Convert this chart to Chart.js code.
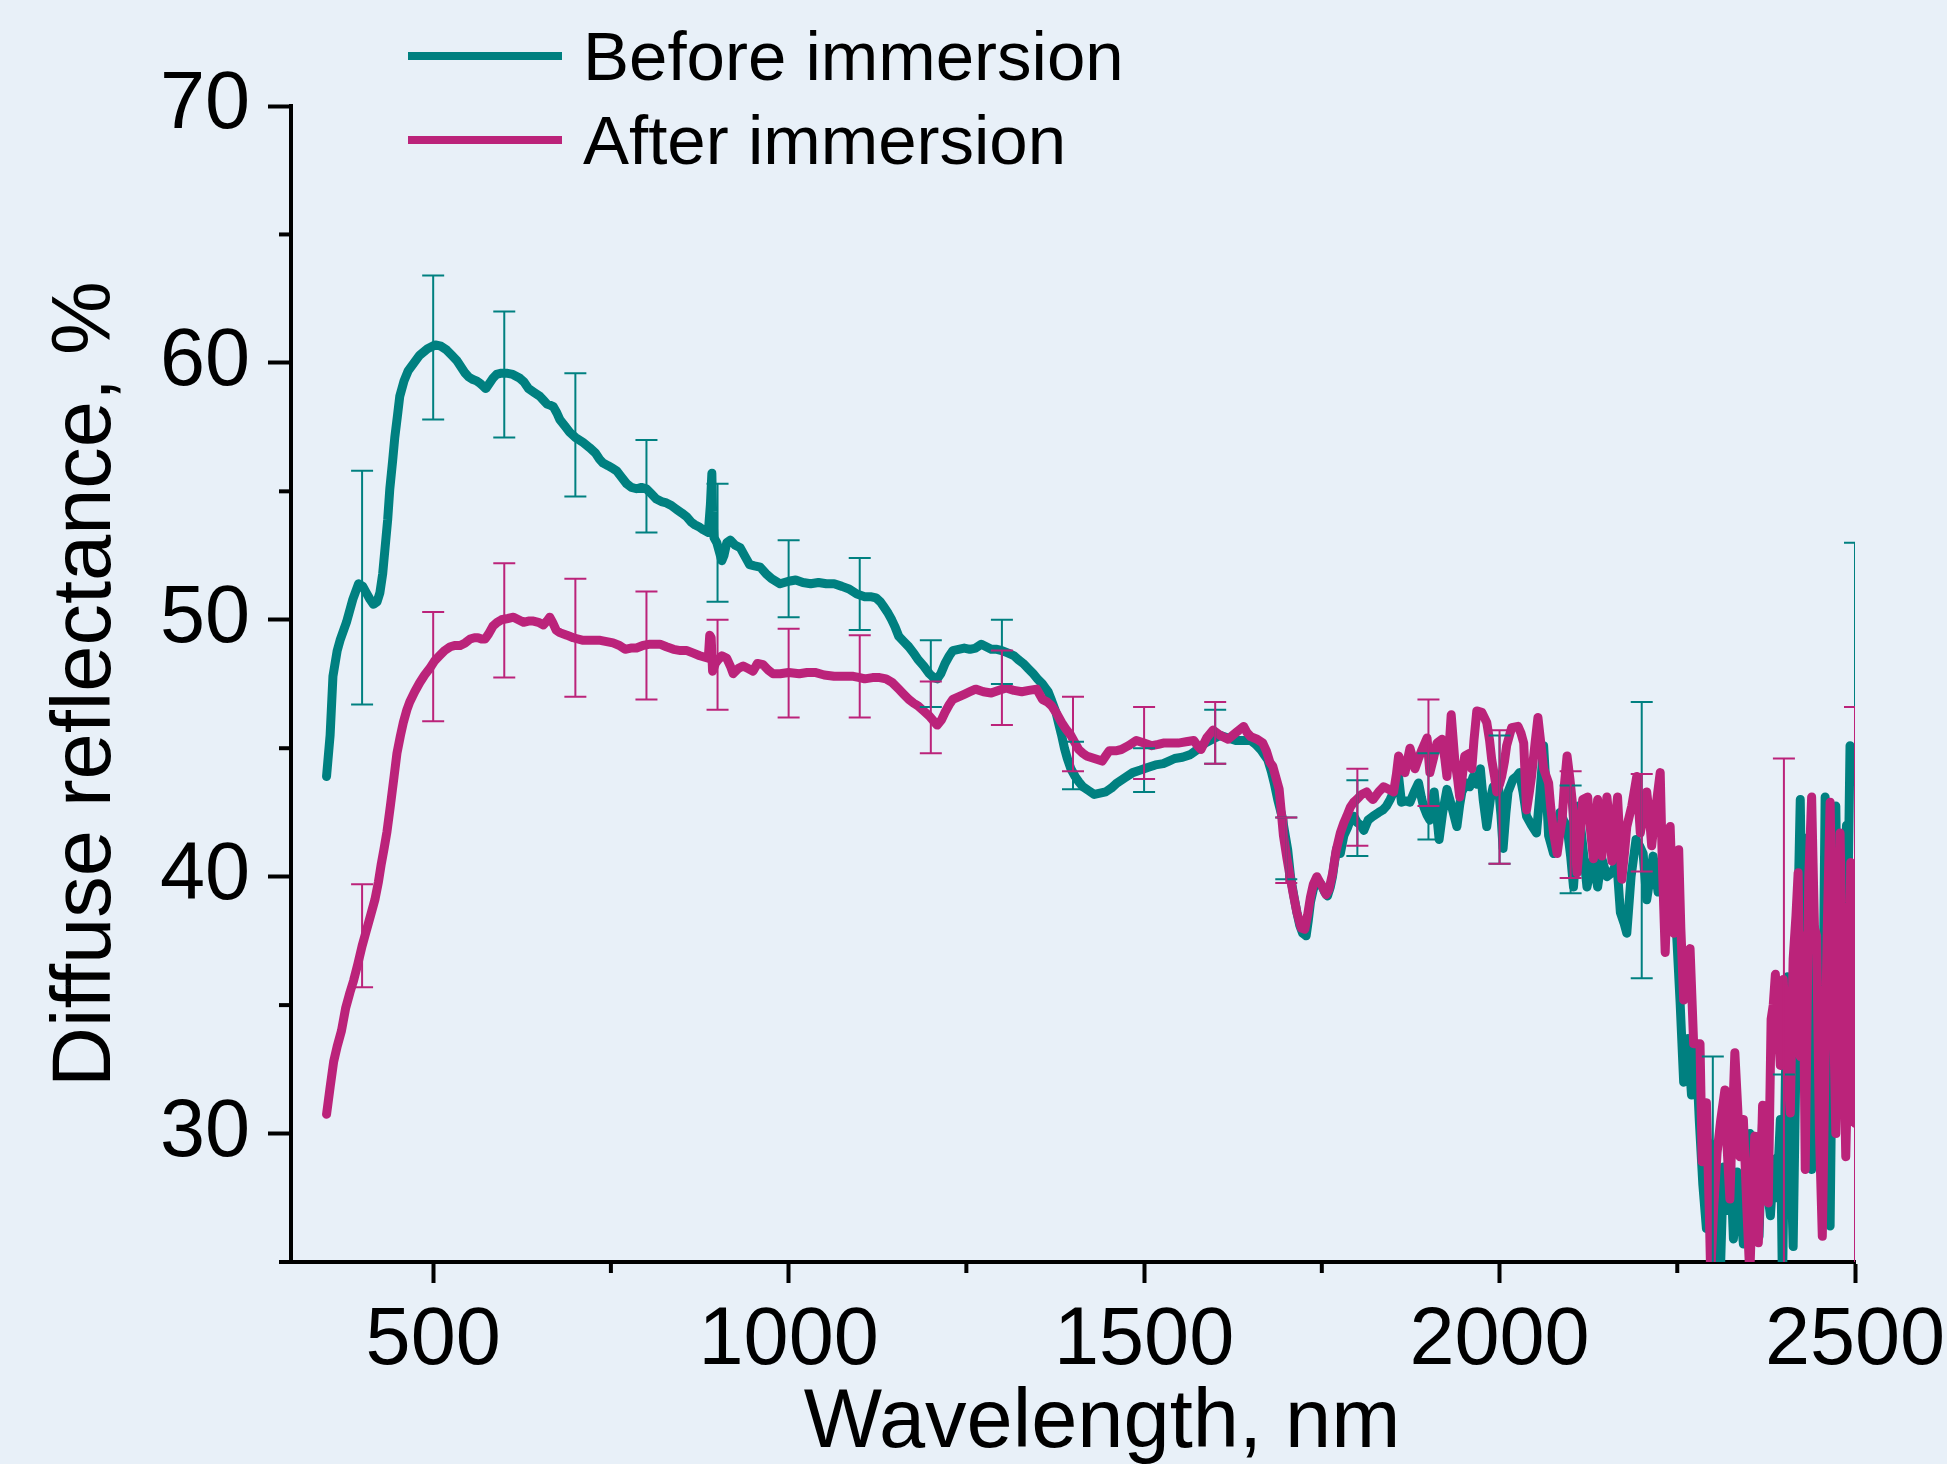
<!DOCTYPE html>
<html>
<head>
<meta charset="utf-8">
<script src="https://cdn.jsdelivr.net/npm/chart.js@4.4.1/dist/chart.umd.min.js"></script>
<style>
  html, body { margin: 0; padding: 0; background: #e8f0f8; }
  #c { display: block; }
</style>
</head>
<body>
<canvas id="c" width="1947" height="1464" style="width:1947px;height:1464px"></canvas>
<script>
// ---------------- DATA ----------------
const seriesNames = ['Before immersion', 'After immersion'];
const xTitle = 'Wavelength, nm';
const yTitle = 'Diffuse reflectance, %';

const xMajorTicks = [500, 1000, 1500, 2000, 2500];
const xMinorTicks = [750, 1250, 1750, 2250];
const yMajorTicks = [30, 40, 50, 60, 70];
const yMinorTicks = [25, 35, 45, 55, 65];

// [wavelength nm, reflectance %]
const beforeSpectrum = [
[350,43.9],[355,45.5],[359,47.8],[365,48.8],[369,49.2],[378,49.9],[387,50.8],[395,51.4],[401,51.3],[406,51.05],
[411,50.8],[416,50.6],[421,50.7],[425,51.05],[429,51.8],[432,52.7],[436,53.9],[439,55.1],[443,56.2],[446,57.1],
[450,58.0],[453,58.7],[459,59.3],[465,59.7],[473,60.0],[481,60.3],[492,60.55],[503,60.7],[511,60.65],[519,60.5],
[526,60.3],[533,60.1],[539,59.85],[545,59.6],[550,59.45],[556,59.35],[561,59.3],[566,59.2],[570,59.1],[574,59.0],
[579,59.2],[584,59.4],[589,59.55],[596,59.6],[603,59.6],[612,59.55],[622,59.4],[628,59.25],[634,59.0],[642,58.85],
[650,58.7],[655,58.55],[660,58.4],[665,58.35],[669,58.3],[674,58.05],[678,57.8],[685,57.55],[692,57.3],[700,57.1],
[711,56.9],[720,56.7],[728,56.5],[734,56.25],[739,56.1],[746,56.0],[752,55.9],[758,55.8],[765,55.55],[772,55.3],
[779,55.15],[786,55.1],[793,55.15],[800,55.1],[807,54.9],[814,54.7],[821,54.6],[828,54.55],[835,54.45],[842,54.3],
[850,54.15],[857,54.0],[863,53.8],[868,53.7],[875,53.6],[880,53.5],[887,53.4],[890,54.5],[892,55.7],[893,54.2],
[895,53.2],[899,53.0],[903,52.6],[906,52.3],[909,52.5],[913,53.0],[918,53.1],[925,52.9],[932,52.8],[938,52.5],
[945,52.15],[952,52.1],[960,52.05],[968,51.8],[976,51.6],[988,51.4],[1000,51.5],[1010,51.55],[1020,51.45],[1031,51.4],
[1042,51.45],[1053,51.4],[1064,51.4],[1075,51.3],[1085,51.2],[1096,51.0],[1107,50.9],[1115,50.9],[1123,50.85],[1129,50.7],
[1134,50.5],[1140,50.25],[1145,50.0],[1150,49.7],[1155,49.35],[1162,49.15],[1169,48.95],[1176,48.7],[1182,48.45],[1190,48.2],
[1198,47.9],[1204,47.75],[1209,47.7],[1214,47.9],[1220,48.3],[1226,48.6],[1231,48.8],[1239,48.85],[1247,48.9],[1255,48.85],
[1263,48.9],[1271,49.05],[1278,48.95],[1285,48.85],[1293,48.85],[1300,48.8],[1309,48.7],[1317,48.6],[1323,48.45],[1330,48.3],
[1337,48.1],[1344,47.9],[1350,47.7],[1357,47.5],[1361,47.35],[1365,47.2],[1370,46.85],[1376,46.4],[1380,45.95],[1384,45.5],
[1388,45.0],[1392,44.6],[1397,44.2],[1403,43.9],[1408,43.7],[1414,43.5],[1422,43.35],[1430,43.2],[1438,43.25],[1446,43.3],
[1454,43.45],[1462,43.65],[1473,43.85],[1484,44.05],[1495,44.15],[1505,44.25],[1516,44.35],[1527,44.4],[1535,44.5],[1543,44.6],
[1554,44.65],[1565,44.75],[1575,44.95],[1586,45.2],[1596,45.35],[1607,45.5],[1618,45.4],[1629,45.3],[1640,45.3],[1650,45.3],
[1657,45.15],[1664,44.95],[1669,44.75],[1674,44.55],[1679,44.1],[1683,43.65],[1688,43.0],[1694,42.35],[1698,41.7],[1702,41.05],
[1706,40.0],[1711,39.2],[1715,38.6],[1719,38.1],[1723,37.8],[1728,37.7],[1731,38.3],[1734,39.0],[1738,39.5],[1743,39.9],
[1749,39.7],[1754,39.4],[1758,39.25],[1762,39.6],[1765,40.0],[1768,40.6],[1771,41.1],[1776,40.9],[1781,41.6],[1786,41.9],
[1790,42.2],[1795,42.35],[1800,42.1],[1805,42.0],[1809,41.8],[1815,42.2],[1822,42.35],[1830,42.5],[1836,42.6],[1841,42.75],
[1846,43.0],[1851,43.3],[1855,43.6],[1858,43.9],[1862,42.9],[1868,42.95],[1874,42.9],[1880,43.3],[1886,43.65],[1890,43.1],
[1893,42.75],[1898,42.4],[1902,42.2],[1905,42.8],[1908,43.3],[1912,42.3],[1915,41.45],[1920,42.5],[1926,43.4],[1933,42.7],
[1940,41.95],[1944,42.8],[1947,43.3],[1954,43.65],[1958,43.5],[1963,43.9],[1968,43.6],[1973,44.2],[1977,43.0],[1982,41.95],
[1987,43.0],[1991,43.5],[1998,43.65],[2002,42.4],[2005,41.1],[2009,42.5],[2012,43.3],[2019,43.8],[2024,43.9],[2028,44.05],
[2033,43.3],[2038,42.35],[2045,42.0],[2052,41.7],[2057,43.3],[2062,45.1],[2066,43.2],[2069,41.6],[2073,41.2],[2076,40.9],
[2081,41.8],[2085,42.5],[2090,42.2],[2095,41.95],[2100,40.8],[2104,39.6],[2108,41.2],[2111,42.75],[2117,41.2],[2123,39.6],
[2128,40.3],[2132,40.7],[2135,40.1],[2138,39.6],[2141,40.2],[2144,40.7],[2148,40.3],[2151,40.0],[2158,40.15],[2165,40.55],
[2170,38.6],[2175,38.2],[2179,37.8],[2185,40.0],[2192,41.45],[2197,41.2],[2202,40.9],[2207,39.1],[2212,40.0],[2216,40.8],
[2220,40.0],[2223,39.4],[2229,39.7],[2235,40.0],[2242,39.0],[2249,37.8],[2254,35.1],[2259,32.0],[2265,33.7],[2270,31.5],
[2276,33.5],[2281,30.5],[2286,28.0],[2291,26.3],[2297,29.6],[2302,27.0],[2306,24.5],[2310,24.0],[2315,28.7],[2320,27.0],
[2324,29.5],[2329,25.9],[2334,28.5],[2338,27.3],[2343,25.7],[2348,28.0],[2352,30.0],[2356,27.5],[2360,29.5],[2365,26.0],
[2370,30.5],[2376,28.0],[2381,26.8],[2386,29.0],[2390,27.5],[2395,30.55],[2398,24.0],[2402,32.0],[2405,36.1],[2409,30.0],
[2413,25.6],[2417,33.0],[2420,39.0],[2423,43.0],[2427,35.0],[2431,41.5],[2435,30.0],[2439,28.6],[2443,38.0],[2446,34.0],
[2450,30.0],[2455,35.0],[2458,43.1],[2462,33.0],[2465,26.4],[2468,33.8],[2473,42.75],[2476,37.0],[2480,31.0],[2484,38.0],
[2488,42.0],[2490,39.0],[2493,45.1],[2496,44.5],[2500,45.0]
];

const afterSpectrum = [
[350,30.75],[355,31.8],[360,32.8],[365,33.4],[371,34.0],[377,34.9],[383,35.5],[388,35.95],[394,36.6],[400,37.3],
[406,37.9],[412,38.5],[418,39.1],[423,39.8],[427,40.5],[431,41.1],[435,41.75],[440,42.8],[445,43.9],[449,44.8],
[454,45.5],[458,46.0],[463,46.5],[467,46.8],[474,47.2],[481,47.55],[488,47.85],[495,48.1],[502,48.4],[509,48.6],
[516,48.8],[524,48.95],[531,49.0],[538,49.0],[545,49.1],[552,49.25],[558,49.3],[563,49.3],[568,49.25],[573,49.25],
[578,49.45],[584,49.75],[590,49.9],[596,50.0],[605,50.05],[613,50.1],[620,50.0],[627,49.9],[634,49.95],[641,49.95],
[648,49.9],[655,49.8],[660,49.95],[664,50.1],[668,49.9],[673,49.6],[678,49.5],[688,49.4],[697,49.3],[711,49.2],
[723,49.2],[735,49.2],[744,49.15],[753,49.1],[762,49.0],[770,48.85],[778,48.9],[786,48.9],[795,49.0],[805,49.05],
[812,49.05],[819,49.05],[828,48.95],[838,48.85],[848,48.8],[857,48.8],[866,48.7],[875,48.6],[881,48.55],[887,48.5],
[889,49.4],[891,49.3],[893,48.0],[897,48.3],[901,48.45],[906,48.6],[913,48.5],[918,48.2],[922,47.9],[929,48.1],
[936,48.2],[943,48.1],[950,48.0],[956,48.3],[964,48.25],[971,48.05],[978,47.9],[988,47.9],[1000,47.95],[1015,47.9],
[1026,47.95],[1037,47.95],[1050,47.85],[1064,47.8],[1077,47.8],[1091,47.8],[1100,47.75],[1107,47.7],[1118,47.75],[1128,47.75],
[1137,47.7],[1146,47.55],[1155,47.3],[1162,47.1],[1169,46.9],[1176,46.75],[1182,46.65],[1190,46.45],[1198,46.25],[1204,46.05],
[1209,45.9],[1215,46.1],[1220,46.4],[1226,46.7],[1231,46.9],[1239,47.0],[1247,47.1],[1255,47.2],[1263,47.3],[1274,47.2],
[1285,47.15],[1295,47.25],[1306,47.35],[1317,47.25],[1328,47.2],[1338,47.25],[1349,47.3],[1353,47.1],[1357,46.9],[1364,46.8],
[1370,46.65],[1377,46.35],[1384,46.0],[1390,45.75],[1397,45.5],[1403,45.2],[1408,44.95],[1414,44.8],[1419,44.7],[1430,44.6],
[1441,44.5],[1446,44.7],[1451,44.9],[1460,44.9],[1468,44.95],[1478,45.1],[1489,45.3],[1500,45.2],[1511,45.1],[1520,45.15],
[1527,45.2],[1538,45.2],[1548,45.2],[1559,45.25],[1570,45.3],[1575,45.1],[1580,44.95],[1588,45.4],[1597,45.7],[1607,45.5],
[1618,45.35],[1629,45.6],[1640,45.85],[1645,45.6],[1650,45.45],[1659,45.35],[1667,45.2],[1672,44.9],[1677,44.45],[1681,44.3],
[1686,43.8],[1690,43.4],[1693,42.5],[1696,41.6],[1701,40.7],[1706,39.9],[1710,39.3],[1715,38.6],[1721,38.0],[1726,37.95],
[1730,38.5],[1734,39.2],[1738,39.7],[1743,40.0],[1747,39.8],[1751,39.6],[1756,39.3],[1760,39.5],[1765,40.1],[1770,41.0],
[1776,41.7],[1781,42.1],[1785,42.35],[1790,42.7],[1795,42.9],[1799,43.0],[1806,43.2],[1813,43.3],[1818,43.1],[1822,43.0],
[1830,43.3],[1837,43.5],[1844,43.4],[1851,43.3],[1855,44.0],[1858,44.7],[1862,44.4],[1867,44.05],[1871,44.6],[1874,45.0],
[1878,44.6],[1881,44.2],[1886,44.6],[1891,44.95],[1898,45.4],[1902,44.05],[1907,44.6],[1912,45.2],[1919,45.35],[1923,44.6],
[1926,43.9],[1929,45.0],[1932,46.3],[1937,44.55],[1941,43.8],[1944,43.1],[1948,44.0],[1951,44.7],[1958,44.8],[1961,44.2],
[1964,45.3],[1968,46.45],[1975,46.4],[1982,46.0],[1986,45.3],[1989,44.55],[1993,43.9],[1996,43.3],[2000,43.6],[2003,43.9],
[2007,44.5],[2010,45.1],[2017,45.8],[2026,45.85],[2030,45.6],[2034,45.2],[2038,42.6],[2042,43.3],[2045,43.9],[2050,45.2],
[2054,46.2],[2058,45.2],[2062,44.2],[2069,43.65],[2072,42.7],[2076,41.7],[2081,40.9],[2084,41.5],[2088,42.2],[2091,43.5],
[2095,44.7],[2099,43.8],[2102,43.0],[2106,41.5],[2109,40.15],[2113,41.5],[2117,43.0],[2124,43.1],[2128,41.8],[2132,40.7],
[2135,41.8],[2138,43.0],[2141,41.9],[2144,40.8],[2148,42.0],[2151,43.1],[2155,42.0],[2158,40.6],[2162,42.0],[2166,43.1],
[2169,41.5],[2172,39.9],[2176,41.0],[2179,41.95],[2186,42.75],[2193,43.9],[2198,41.7],[2203,42.5],[2207,43.3],[2211,42.3],
[2214,41.2],[2219,42.5],[2226,44.05],[2229,40.5],[2233,37.05],[2236,39.5],[2240,41.95],[2245,37.8],[2249,39.5],[2252,41.05],
[2255,38.0],[2259,35.2],[2264,36.3],[2268,37.2],[2271,35.0],[2273,33.5],[2278,33.5],[2282,33.5],[2285,28.9],[2288,30.0],
[2291,31.2],[2295,27.0],[2297,24.5],[2301,27.0],[2306,29.25],[2311,30.5],[2317,31.7],[2320,29.5],[2324,27.45],[2327,30.0],
[2331,33.15],[2335,31.0],[2338,29.1],[2343,30.55],[2348,27.0],[2352,24.5],[2355,27.0],[2359,29.9],[2364,25.75],[2367,28.0],
[2370,31.1],[2374,29.0],[2378,27.3],[2382,34.45],[2385,35.0],[2388,36.2],[2392,34.0],[2395,32.65],[2399,36.0],[2404,33.0],
[2409,30.8],[2411,34.0],[2413,36.8],[2417,38.5],[2420,40.15],[2423,33.0],[2427,37.7],[2430,28.6],[2435,40.0],[2439,43.1],
[2443,38.0],[2446,37.7],[2450,30.0],[2454,26.0],[2458,33.0],[2461,38.0],[2465,42.9],[2469,36.0],[2473,30.0],[2476,35.0],
[2479,41.7],[2483,35.0],[2487,29.1],[2491,34.0],[2494,40.55],[2497,35.0],[2500,30.4]
];

// error bars
const errNm      = [400, 500, 600, 700, 800, 900, 1000, 1100, 1200, 1300, 1400, 1500, 1600, 1700, 1800, 1900, 2000, 2100, 2200, 2300, 2400, 2500];
const beforeHigh = [55.8, 63.4, 62.0, 59.6, 57.0, 55.3, 53.1, 52.4, 49.2, 50.0, 45.25, 45.0, 46.5, 42.3, 43.75, 44.8, 45.5, 43.55, 46.8, 33.0, 32.3, 53.0];
const beforeLow  = [46.7, 57.8, 57.1, 54.8, 53.4, 50.7, 50.1, 49.6, 46.6, 47.5, 43.4, 43.3, 44.4, 39.9, 40.8, 41.45, 40.5, 39.35, 36.05, 20.0, 20.0, 17.0];
const afterHigh  = [39.7, 50.3, 52.2, 51.6, 51.1, 50.0, 49.65, 49.4, 47.6, 48.8, 47.0, 46.6, 46.8, 42.3, 44.2, 46.9, 45.7, 44.1, 44.0, null, 44.6, 46.6];
const afterLow   = [35.7, 46.05, 47.75, 47.0, 46.9, 46.5, 46.2, 46.2, 44.8, 45.9, 44.1, 43.8, 44.4, 39.75, 41.2, 42.75, 40.5, 39.95, 40.2, null, 15.0, 19.6];

// ---------------- STYLE ----------------
const TEAL = '#008080';
const MAGENTA = '#bb237a';
const BG = '#e8f0f8';
const FONT = "'Liberation Sans', Arial, Helvetica, sans-serif";

const toXY = arr => arr.map(p => ({ x: p[0], y: p[1] }));

const bgPlugin = {
  id: 'bg',
  beforeDraw(chart) {
    const ctx = chart.ctx;
    ctx.save();
    ctx.fillStyle = BG;
    ctx.fillRect(0, 0, chart.width, chart.height);
    ctx.restore();
  }
};

const errorBarPlugin = {
  id: 'errorBars',
  afterDatasetsDraw(chart) {
    const ctx = chart.ctx, xs = chart.scales.x, ys = chart.scales.y, a = chart.chartArea;
    ctx.save();
    ctx.beginPath();
    ctx.rect(a.left, a.top, a.right - a.left, a.bottom - a.top);
    ctx.clip();
    const sets = [
      { hi: beforeHigh, lo: beforeLow, color: TEAL },
      { hi: afterHigh, lo: afterLow, color: MAGENTA }
    ];
    ctx.lineWidth = 2;
    ctx.lineCap = 'butt';
    for (const s of sets) {
      ctx.strokeStyle = s.color;
      for (let i = 0; i < errNm.length; i++) {
        if (s.hi[i] == null || s.lo[i] == null) continue;
        const px = xs.getPixelForValue(errNm[i]);
        const ph = ys.getPixelForValue(s.hi[i]);
        const pl = ys.getPixelForValue(s.lo[i]);
        ctx.beginPath();
        ctx.moveTo(px, ph); ctx.lineTo(px, pl);
        ctx.moveTo(px - 11, ph); ctx.lineTo(px + 11, ph);
        ctx.moveTo(px - 11, pl); ctx.lineTo(px + 11, pl);
        ctx.stroke();
      }
    }
    ctx.restore();
  }
};

const decorPlugin = {
  id: 'decor',
  afterDraw(chart) {
    const ctx = chart.ctx, xs = chart.scales.x, ys = chart.scales.y, a = chart.chartArea;
    ctx.save();
    // minor ticks
    ctx.strokeStyle = '#000';
    ctx.lineWidth = 4;
    ctx.lineCap = 'butt';
    for (const v of xMinorTicks) {
      const px = xs.getPixelForValue(v);
      ctx.beginPath(); ctx.moveTo(px, a.bottom); ctx.lineTo(px, a.bottom + 11); ctx.stroke();
    }
    for (const v of yMinorTicks) {
      const py = ys.getPixelForValue(v);
      ctx.beginPath(); ctx.moveTo(a.left, py); ctx.lineTo(a.left - 12, py); ctx.stroke();
    }
    // axis titles
    ctx.fillStyle = '#000';
    ctx.font = '83px ' + FONT;
    ctx.textAlign = 'center';
    ctx.textBaseline = 'alphabetic';
    ctx.fillText(xTitle, 1102, 1447);
    ctx.save();
    ctx.translate(110, (a.top + a.bottom) / 2);
    ctx.rotate(-Math.PI / 2);
    ctx.fillText(yTitle, 0, 0);
    ctx.restore();
    // legend
    const leg = [
      { name: seriesNames[0], color: TEAL, y: 56, base: 80 },
      { name: seriesNames[1], color: MAGENTA, y: 140, base: 164 }
    ];
    ctx.font = '69px ' + FONT;
    ctx.textAlign = 'left';
    for (const l of leg) {
      ctx.strokeStyle = l.color;
      ctx.lineWidth = 8;
      ctx.beginPath(); ctx.moveTo(408, l.y); ctx.lineTo(562, l.y); ctx.stroke();
      ctx.fillStyle = '#000';
      ctx.fillText(l.name, 583, l.base);
    }
    ctx.restore();
  }
};

new Chart(document.getElementById('c'), {
  type: 'line',
  data: {
    datasets: [
      {
        label: seriesNames[0],
        data: toXY(beforeSpectrum),
        borderColor: TEAL,
        borderWidth: 9,
        pointRadius: 0,
        tension: 0,
        fill: false,
        borderJoinStyle: 'round',
        borderCapStyle: 'round',
        order: 1
      },
      {
        label: seriesNames[1],
        data: toXY(afterSpectrum),
        borderColor: MAGENTA,
        borderWidth: 9,
        pointRadius: 0,
        tension: 0,
        fill: false,
        borderJoinStyle: 'round',
        borderCapStyle: 'round',
        order: 0
      }
    ]
  },
  options: {
    responsive: false,
    animation: false,
    devicePixelRatio: 1,
    layout: { padding: { top: 106, right: 92, bottom: 0, left: 0 } },
    plugins: { legend: { display: false }, tooltip: { enabled: false }, title: { display: false } },
    scales: {
      x: {
        type: 'linear',
        min: 300,
        max: 2500,
        afterBuildTicks: s => { s.ticks = xMajorTicks.map(v => ({ value: v })); },
        afterFit: s => { s.height = 202; s.paddingLeft = 0; s.paddingRight = 0; },
        grid: { display: true, drawOnChartArea: false, drawTicks: true, tickLength: 21, tickWidth: 4, tickColor: '#000' },
        border: { display: true, color: '#000', width: 4 },
        ticks: {
          color: '#000',
          font: { family: FONT, size: 81 },
          padding: 10,
          maxRotation: 0,
          autoSkip: false,
          callback: v => String(v)
        }
      },
      y: {
        type: 'linear',
        min: 25,
        max: 70,
        afterBuildTicks: s => { s.ticks = yMajorTicks.map(v => ({ value: v })); },
        afterFit: s => { s.width = 291; s.paddingTop = 0; s.paddingBottom = 0; },
        grid: { display: true, drawOnChartArea: false, drawTicks: true, tickLength: 23, tickWidth: 4, tickColor: '#000' },
        border: { display: true, color: '#000', width: 4 },
        ticks: {
          color: '#000',
          font: { family: FONT, size: 81 },
          padding: 18,
          autoSkip: false,
          callback: v => String(v)
        }
      }
    }
  },
  plugins: [bgPlugin, errorBarPlugin, decorPlugin]
});
</script>
</body>
</html>
